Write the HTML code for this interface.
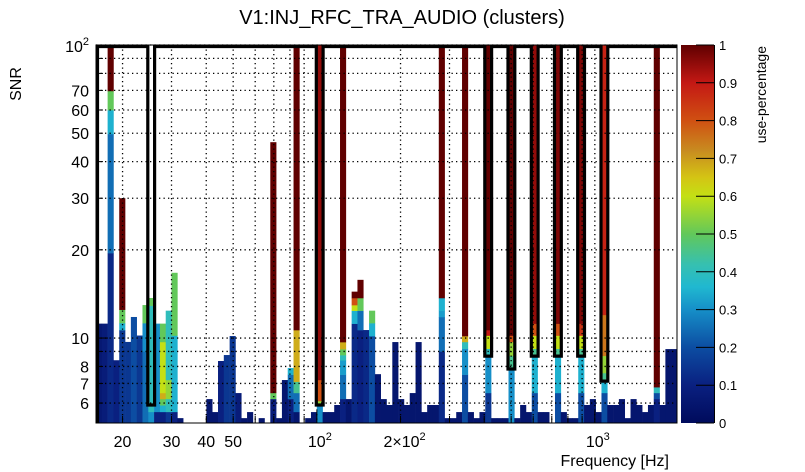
<!DOCTYPE html>
<html><head><meta charset="utf-8"><style>
html,body{margin:0;padding:0;background:#fff;}
svg{display:block;font-family:"Liberation Sans",sans-serif;}
</style></head><body>
<svg id="chart" width="805" height="472" viewBox="0 0 805 472" xmlns="http://www.w3.org/2000/svg">
<defs>
<linearGradient id="cmap" x1="0" y1="1" x2="0" y2="0"></linearGradient>
</defs>
<text x="402" y="24" font-size="20" text-anchor="middle" fill="#000">V1:INJ_RFC_TRA_AUDIO (clusters)</text>
<text transform="translate(21,84) rotate(-90)" font-size="16" text-anchor="middle">SNR</text>
<text x="669" y="466" font-size="16" text-anchor="end">Frequency [Hz]</text>
<text transform="translate(766,46) rotate(-90)" font-size="14" text-anchor="end">use-percentage</text>
<g id="cells"></g>
<g id="grid"></g>
<g id="axes"></g>
<g id="outline"></g>
<g id="cbar"></g>
</svg>
<script>
// ---- data ----
const nBins = 100;
const freqMin = 16.05;
const freqMax = 1975;
const snrMin = 5.13;
const snrMax = 100;
// clusters: [binIndex, snrLow, snrHigh, usePercentage]
const clusters = [
[0,5,11.2,0.06],[1,5,11.2,0.08],
[2,5,19.5,0.12],[2,19.5,49.7,0.25],[2,49.7,60,0.35],[2,60,69.7,0.5],[2,69.7,100,1],
[3,5,8.4,0.1],
[4,5,10.65,0.15],[4,10.65,11.25,0.35],[4,11.25,12.5,0.5],[4,12.5,30,1],
[5,5,9.7,0.15],[6,5,11.8,0.2],[7,5,10.2,0.15],
[8,5,9,0.25],[8,9,11.25,0.3],[8,11.25,12.96,0.5],
[9,5,5.6,0.3],[9,5.6,12.9,0.4],[9,12.9,13.7,0.5],
[10,5,5.6,0.1],[10,5.6,11.2,0.3],
[11,5,5.6,0.1],[11,5.6,5.9,0.35],[11,5.9,6.2,0.5],[11,6.2,6.5,0.68],[11,6.5,9.7,0.6],[11,9.7,11.2,0.5],
[12,5,5.6,0.15],[12,5.6,6.2,0.4],[12,6.2,7.2,0.55],[12,7.2,12.4,0.4],
[13,5,5.6,0.1],[13,5.6,10.2,0.35],[13,10.2,16.7,0.5],
[14,5,5.33,0.05],
[19,5,6.19,0.05],[20,5,5.59,0.05],[21,5,8.35,0.1],[22,5,8.75,0.15],[23,5,10.16,0.15],
[24,5,6.49,0.08],[25,5,5.33,0.05],[26,5,5.59,0.05],[28,5,5.33,0.05],
[30,5,6.2,0.08],[30,6.2,6.5,0.5],[30,6.5,46.6,1],
[31,5,5.33,0.05],[32,5,7.19,0.05],
[33,5,6.2,0.1],[33,6.2,7.5,0.25],[33,7.5,7.9,0.35],
[34,5,5.6,0.05],[34,5.6,6.5,0.25],[34,6.5,7.1,0.45],[34,7.1,10.65,0.68],[34,10.65,100,1],
[36,5,5.33,0.05],[37,5,5.59,0.05],
[38,5,5.9,0.3],[38,5.9,6.1,0.55],[38,6.1,7.2,0.8],[38,7.2,100,0.95],
[39,5,5.59,0.05],[40,5,5.59,0.05],[41,5,5.91,0.05],
[42,5,6.2,0.1],[42,6.2,7.5,0.25],[42,7.5,8.4,0.32],[42,8.4,8.75,0.4],[42,8.75,9.17,0.5],[42,9.17,9.69,0.68],[42,9.69,100,1],
[43,5,6.19,0.05],
[44,5,11.2,0.12],[44,11.2,12.4,0.35],[44,12.4,12.96,0.6],[44,12.96,13.7,0.8],[44,13.7,14.4,1],
[45,5,10.65,0.1],[45,10.65,12.4,0.25],[45,12.4,13.7,0.5],[45,13.7,15.8,1],
[46,5,10.65,0.12],
[47,5,10.16,0.2],[47,10.16,11.25,0.35],[47,11.25,12.4,0.5],
[48,5,7.53,0.05],[49,5,6.19,0.05],[50,5,5.91,0.05],[51,5,9.69,0.05],[52,5,6.19,0.05],
[53,5,5.91,0.05],[54,5,6.49,0.05],[55,5,9.69,0.05],[56,5,5.59,0.05],[57,5,5.91,0.05],[58,5,5.91,0.05],
[59,5,9,0.12],[59,9,11.8,0.25],[59,11.8,12.4,0.32],[59,12.4,13.7,0.35],[59,13.7,100,1],
[60,5,5.33,0.05],[61,5,5.33,0.05],[62,5,5.59,0.05],
[63,5,7.5,0.2],[63,7.5,9.2,0.3],[63,9.2,9.7,0.4],[63,9.7,10.16,0.68],[63,10.16,100,1],
[64,5,5.59,0.05],[65,5,5.33,0.05],[66,5,5.59,0.05],
[67,5,6.5,0.15],[67,6.5,8.68,0.3],[67,8.68,9.2,0.4],[67,9.2,10.2,0.6],[67,10.2,10.65,0.9],[67,10.65,100,1],
[68,5,5.33,0.05],[69,5,5.33,0.05],[70,5,5.33,0.05],
[71,5,7.84,0.3],[71,7.84,8.7,0.45],[71,8.7,9.7,0.55],[71,9.7,10.2,0.8],[71,10.2,100,1],
[72,5,5.33,0.05],[73,5,5.91,0.05],[74,5,5.59,0.05],
[75,5,6.5,0.2],[75,6.5,8.68,0.35],[75,8.68,9.2,0.45],[75,9.2,10.2,0.6],[75,10.2,11.2,0.8],[75,11.2,100,0.95],
[76,5,5.59,0.05],[77,5,5.59,0.05],
[79,5,6.5,0.2],[79,6.5,8.68,0.35],[79,8.68,9.2,0.45],[79,9.2,10.2,0.6],[79,10.2,11.2,0.8],[79,11.2,100,0.97],
[80,5,5.59,0.05],[81,5,5.33,0.05],[82,5,5.33,0.05],
[83,5,6.5,0.2],[83,6.5,8.68,0.35],[83,8.68,9.2,0.45],[83,9.2,10.2,0.6],[83,10.2,11.2,0.85],[83,11.2,100,0.97],
[84,5,5.91,0.05],[85,5,6.19,0.05],[86,5,5.59,0.05],
[87,5,6.5,0.2],[87,6.5,7.13,0.35],[87,7.13,7.6,0.45],[87,7.6,8.7,0.55],[87,8.7,12,0.75],[87,12,100,0.88],
[88,5,5.91,0.05],[89,5,5.91,0.05],[90,5,6.19,0.05],[91,5,5.33,0.05],[92,5,6.19,0.05],
[93,5,5.91,0.05],[94,5,5.59,0.05],[95,5,5.91,0.05],
[96,5,6.2,0.1],[96,6.2,6.5,0.2],[96,6.5,6.8,0.4],[96,6.8,100,1],
[97,5,5.91,0.05],[98,5,9.17,0.05],[99,5,9.17,0.05]
];
// outline notches: bin index and bottom SNR
const notchBins = [9,38,67,71,75,79,83,87];
const notchBottom = [5.91,5.91,8.68,7.84,8.68,8.68,8.68,7.13];
const yTickVals = [6,7,8,9,10,20,30,40,50,60,70,80,90,100];
const yTickLabels = {6:"6",7:"7",8:"8",10:"10",20:"20",30:"30",40:"40",50:"50",60:"60",70:"70"};
const xGridVals = [20,30,40,50,60,70,80,90,100,200,300,400,500,600,700,800,900,1000];
const xTickLabels = {20:"20",30:"30",40:"40",50:"50"};
const cbTicks = [0,0.1,0.2,0.3,0.4,0.5,0.6,0.7,0.8,0.9,1];
// colour map stops [value, colour]
const cmapStops = [[0,"#000b5c"],[0.1,"#0a2080"],[0.2,"#0c4da2"],[0.3,"#168fc8"],[0.36,"#20b8d0"],[0.42,"#36c0b0"],[0.5,"#62c85a"],[0.6,"#c4e014"],[0.65,"#d4c414"],[0.72,"#c88c20"],[0.8,"#d05012"],[0.9,"#c41814"],[1,"#600000"]];

// ---- geometry ----
const X0=96, X1=677, Y0=423, Y1=45;
const NS="http://www.w3.org/2000/svg";
const lf0=Math.log10(freqMin), lf1=Math.log10(freqMax);
function xScale(f){return X0+(Math.log10(f)-lf0)/(lf1-lf0)*(X1-X0);}
function binEdge(k){return Math.pow(10, lf0+(lf1-lf0)*k/nBins);}
function yScale(s){return Y0-(Math.log10(s)-Math.log10(snrMin))/(Math.log10(snrMax)-Math.log10(snrMin))*(Y0-Y1);}
function hex(c){return [1,3,5].map(i=>parseInt(c.substr(i,2),16));}
function color(v){
  v=Math.max(0,Math.min(1,v));
  for(let i=1;i<cmapStops.length;i++){
    const [a,ca]=cmapStops[i-1],[b,cb]=cmapStops[i];
    if(v<=b){const t=(v-a)/(b-a);const A=hex(ca),B=hex(cb);
      return "rgb("+A.map((q,j)=>Math.round(q+(B[j]-q)*t)).join(",")+")";}
  }
  return cmapStops[cmapStops.length-1][1];
}
function mk(tag,attrs,parent){const e=document.createElementNS(NS,tag);for(const k in attrs)e.setAttribute(k,attrs[k]);parent.appendChild(e);return e;}

// cells
const gc=document.getElementById('cells');
clusters.forEach(c=>{
  const xa=xScale(binEdge(c[0])), xb=xScale(binEdge(c[0]+1));
  const lo=Math.max(c[1],snrMin), hi=Math.min(c[2],snrMax);
  const ya=yScale(hi), yb=yScale(lo);
  const r=mk('rect',{x:xa.toFixed(2),y:ya.toFixed(2),width:(xb-xa+0.3).toFixed(2),height:(yb-ya+0.3).toFixed(2),fill:color(c[3])},gc);
  
  
});

// grid
const gg=document.getElementById('grid');
yTickVals.forEach(v=>{const y=yScale(v);
  const l=mk('line',{x1:X0,x2:X1,y1:y,y2:y,stroke:"#000","stroke-width":1.3,"stroke-dasharray":"1.3,3.2"},gg);
  
  
});
xGridVals.forEach(v=>{const x=xScale(v);
  const l=mk('line',{x1:x,x2:x,y1:Y1,y2:Y0,stroke:"#000","stroke-width":1.3,"stroke-dasharray":"1.3,3.2"},gg);
  
  
});

// axes
const ga=document.getElementById('axes');
mk('rect',{x:X0,y:Y1,width:X1-X0,height:Y0-Y1,fill:"none",stroke:"#000","stroke-width":1},ga);
yTickVals.forEach(v=>{const y=yScale(v);const len=(v===10||v===100)?12:7;
  mk('line',{x1:X0,x2:X0+len,y1:y,y2:y,stroke:"#000","stroke-width":1},ga);
  if(yTickLabels[v]){const t=mk('text',{x:89,y:y+6,"font-size":16,"text-anchor":"end"},ga);t.textContent=yTickLabels[v];
    
    }
});
(function(){const t=mk('text',{x:89,y:yScale(100)+7,"font-size":16,"text-anchor":"end"},ga);
  
  
  t.innerHTML='10<tspan font-size="11" dy="-7">2</tspan>';})();
xGridVals.concat([2000]).forEach(v=>{const x=xScale(v);if(x>X1)return;const len=(v===100||v===1000)?12:7;
  mk('line',{x1:x,x2:x,y1:Y0,y2:Y0-len,stroke:"#000","stroke-width":1},ga);
  if(xTickLabels[v]){const t=mk('text',{x:x,y:447,"font-size":16,"text-anchor":"middle"},ga);t.textContent=xTickLabels[v];
    
    }
});
[[100,'10<tspan font-size="11" dy="-7">2</tspan>'],[200,'2×10<tspan font-size="11" dy="-7">2</tspan>'],[1000,'10<tspan font-size="11" dy="-7">3</tspan>']].forEach(p=>{
  const t=mk('text',{x:xScale(p[0])+(p[0]===200?4:3),y:447,"font-size":16,"text-anchor":"middle"},ga);
  
  
  t.innerHTML=p[1];
});

// outline
const go=document.getElementById('outline');
let d="M97.5,"+Y0+" L97.5,46.5";
notchBins.forEach((k,i)=>{const xa=xScale(binEdge(k))-0.5, xb=xScale(binEdge(k+1))+0.5, yb=yScale(notchBottom[i]);
  d+=" L"+xa.toFixed(1)+",46.5 L"+xa.toFixed(1)+","+yb.toFixed(1)+" L"+xb.toFixed(1)+","+yb.toFixed(1)+" L"+xb.toFixed(1)+",46.5";});
d+=" L"+X1+",46.5";
const op=mk('path',{d:d,fill:"none",stroke:"#000","stroke-width":3.2,"stroke-linejoin":"miter"},go);



// colorbar
const grad=document.getElementById('cmap');
cmapStops.forEach(s=>mk('stop',{offset:s[0],"stop-color":s[1]},grad));
const gb=document.getElementById('cbar');
mk('rect',{x:681,y:Y1,width:33,height:Y0-Y1,fill:"url(#cmap)"},gb);
mk('line',{x1:714.5,x2:714.5,y1:Y1,y2:Y0,stroke:"#000","stroke-width":1},gb);
cbTicks.forEach(v=>{const y=Y0-v*(Y0-Y1);
  mk('line',{x1:696,x2:714,y1:y,y2:y,stroke:"#000","stroke-width":1},gb);
  const t=mk('text',{x:719,y:y+5,"font-size":13},gb);t.textContent=String(v);
  
  
});
</script>
</body></html>
